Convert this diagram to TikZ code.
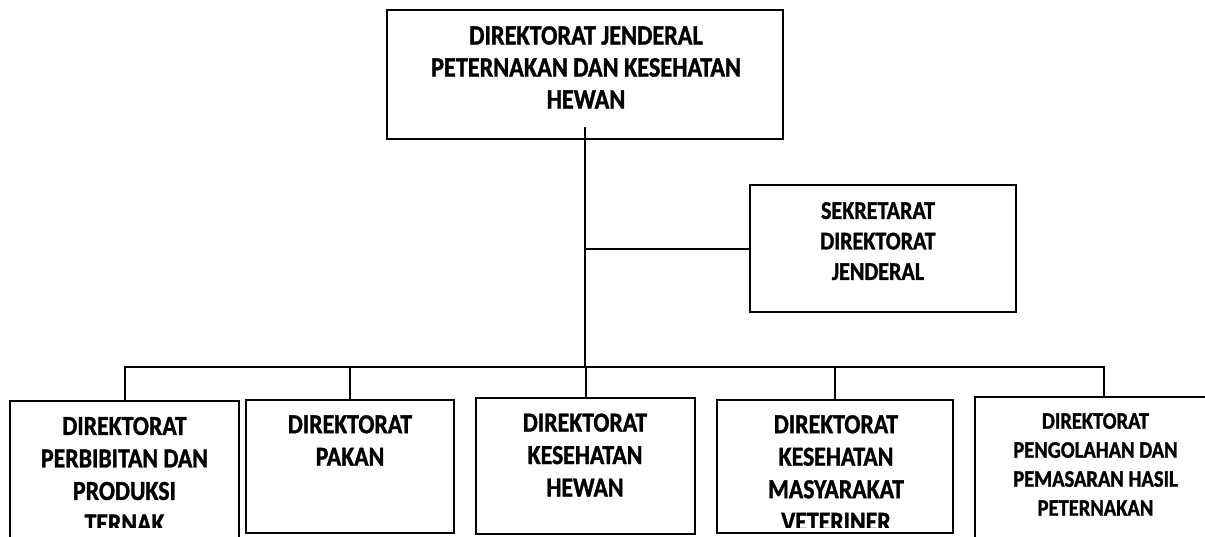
\documentclass[tikz,border=0pt]{standalone}
\usepackage{fontspec}
\newfontfamily\calfont[FakeStretch=0.865, BoldFeatures={FakeBold=1.2}]{Carlito}
\tikzset{
  box/.style={draw=black, line width=2.2pt, rectangle, inner sep=0pt, fill=white},
  conn/.style={draw=black, line width=2pt},
  lbl/.style={anchor=north, align=center, inner sep=0pt},
  fA/.style={font=\calfont\bfseries\fontsize{27.5}{32.5}\selectfont},
  fT/.style={font=\calfont\bfseries\fontsize{28}{32}\selectfont},
  fS/.style={font=\calfont\bfseries\fontsize{25.5}{30.5}\selectfont},
  fE/.style={font=\calfont\bfseries\fontsize{23.7}{29}\selectfont},
}
\begin{document}
\begin{tikzpicture}[x=1pt,y=-1pt]
\useasboundingbox (0,0) rectangle (1205,536);
\fill[white] (0,0) rectangle (1205,536);
\clip (0,0) rectangle (1205,536);
% boxes
\node[box, minimum width=396pt, minimum height=129pt] (top) at (585,74.5) {};
\node[box, minimum width=266pt, minimum height=127pt] (sek) at (883,248.5) {};
\node[box, minimum width=229pt, minimum height=160pt] (b1) at (124.5,481) {};
\node[box, minimum width=208pt, minimum height=133pt] (b2) at (350,466.5) {};
\node[box, minimum width=219pt, minimum height=136pt] (b3) at (585.5,466) {};
\node[box, minimum width=236pt, minimum height=133pt] (b4) at (835,466.5) {};
\node[box, minimum width=241pt, minimum height=163pt] (b5) at (1095.5,478.5) {};
% texts
\node[lbl, fT] (ttop) at (586,26) {DIREKTORAT JENDERAL\\PETERNAKAN DAN KESEHATAN\\HEWAN};
\node[lbl, fS] (tsek) at (878,202) {SEKRETARAT\\DIREKTORAT\\JENDERAL};
\begin{scope}
\clip (0,0) rectangle (1205,527);
\node[lbl, fA] (t1) at (124.5,416.7) {DIREKTORAT\\PERBIBITAN DAN\\PRODUKSI\\TERNAK};
\node[lbl, fA] (t2) at (350,415) {DIREKTORAT\\PAKAN};
\node[lbl, fA] (t3) at (585,413.3) {DIREKTORAT\\KESEHATAN\\HEWAN};
\node[lbl, fA] (t4) at (836,415) {DIREKTORAT\\KESEHATAN\\MASYARAKAT\\VETERINER};
\node[lbl, fE] (t5) at (1095.5,413) {DIREKTORAT\\PENGOLAHAN DAN\\PEMASARAN HASIL\\PETERNAKAN};
\end{scope}
% connectors
\coordinate (topin) at (585,127);
\coordinate (busL) at (124.5,367);
\coordinate (busR) at (1104,367);
\draw[conn] (topin) -- (topin |- busL);
\draw[conn] (sek.west) -- (sek.west -| topin);
\draw[conn] (b1.north) -- (busL) -- (busR) -- (busR |- b5.north);
\draw[conn] (b2.north) -- (b2.north |- busL);
\draw[conn] (b3.north) -- (b3.north |- busL);
\draw[conn] (b4.north) -- (b4.north |- busL);
\end{tikzpicture}
\end{document}
